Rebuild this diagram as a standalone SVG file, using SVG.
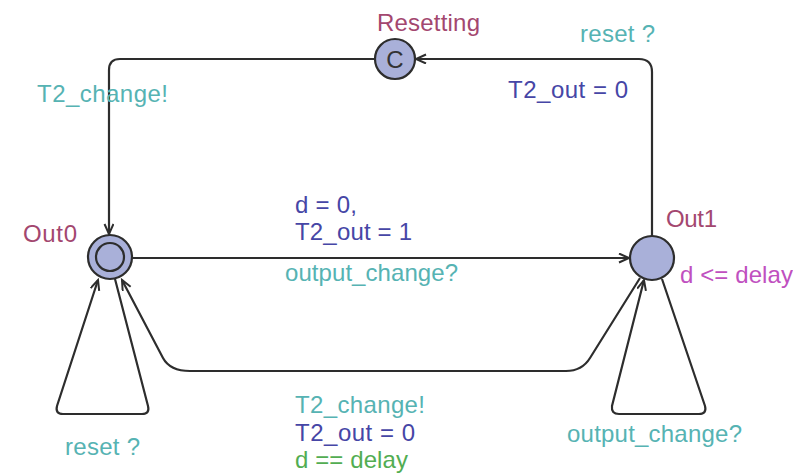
<svg xmlns="http://www.w3.org/2000/svg" width="793" height="474" viewBox="0 0 793 474">
<style>
text{font-family:"Liberation Sans",Arial,sans-serif;font-size:24px}
.name{fill:#a3476f}
.sync{fill:#56b3b3}
.asg{fill:#4646a6}
.grd{fill:#52ad52}
.inv{fill:#c050c0}
.loc{fill:#a9b0d9;stroke:#2d2d2d;stroke-width:2.2}
.edge{fill:none;stroke:#2d2d2d;stroke-width:2.2}
</style>
<defs>
<marker id="arr" markerUnits="userSpaceOnUse" markerWidth="14" markerHeight="12" refX="11" refY="5" orient="auto">
<path d="M1,0.5 L11,5 L1,9.5" fill="none" stroke="#2d2d2d" stroke-width="2"/>
</marker>
</defs>
<rect width="793" height="474" fill="#fff"/>
<g id="connectors">
<path class="edge" d="M652 236 L652 72 Q652 59 639 59 L416 59" marker-end="url(#arr)"/>
<path class="edge" d="M374 59 L120 59 Q109 59 109 70 L109 234" marker-end="url(#arr)"/>
<path class="edge" d="M132 258 L629 258" marker-end="url(#arr)"/>
<path class="edge" d="M640 278 L590 358 Q582 371 566 371 L190 371 Q170 371 163 358 L122 280" marker-end="url(#arr)"/>
<path class="edge" d="M115 279 L148 406 Q150 414 142 414 L63 414 Q55 414 57 406 L98 280" marker-end="url(#arr)"/>
<path class="edge" d="M662 279 L705 406 Q707 414 699 414 L619 414 Q611 414 612 406 L644 280" marker-end="url(#arr)"/>
</g>
<g id="Resetting">
<circle class="loc" cx="395" cy="59" r="20"/>
<text x="395" y="67.5" text-anchor="middle" fill="#333" font-size="22">C</text>
<text class="name" x="377" y="31" textLength="103" lengthAdjust="spacing">Resetting</text>
</g>
<g id="Out0">
<circle class="loc" cx="110" cy="257" r="22"/>
<circle class="loc" cx="110" cy="257" r="14"/>
<text class="name" x="23" y="242" textLength="54" lengthAdjust="spacing">Out0</text>
</g>
<g id="Out1">
<circle class="loc" cx="652" cy="258" r="22"/>
<text class="name" x="666" y="227" textLength="51" lengthAdjust="spacing">Out1</text>
<text class="inv" x="680" y="283" textLength="113" lengthAdjust="spacing">d &lt;= delay</text>
</g>
<g id="labels">
<text class="sync" x="580" y="42" textLength="75" lengthAdjust="spacing">reset ?</text>
<text class="asg" x="508" y="98" textLength="120" lengthAdjust="spacing">T2_out = 0</text>
<text class="sync" x="37" y="102" textLength="131" lengthAdjust="spacing">T2_change!</text>
<text class="asg" x="295" y="213" textLength="62" lengthAdjust="spacing">d = 0,</text>
<text class="asg" x="295" y="240" textLength="117" lengthAdjust="spacing">T2_out = 1</text>
<text class="sync" x="285" y="281" textLength="173" lengthAdjust="spacing">output_change?</text>
<text class="sync" x="295" y="413" textLength="130" lengthAdjust="spacing">T2_change!</text>
<text class="asg" x="295" y="441" textLength="120" lengthAdjust="spacing">T2_out = 0</text>
<text class="grd" x="295" y="468" textLength="113" lengthAdjust="spacing">d == delay</text>
<text class="sync" x="567" y="442" textLength="175" lengthAdjust="spacing">output_change?</text>
<text class="sync" x="65" y="455" textLength="75" lengthAdjust="spacing">reset ?</text>
</g>
</svg>
